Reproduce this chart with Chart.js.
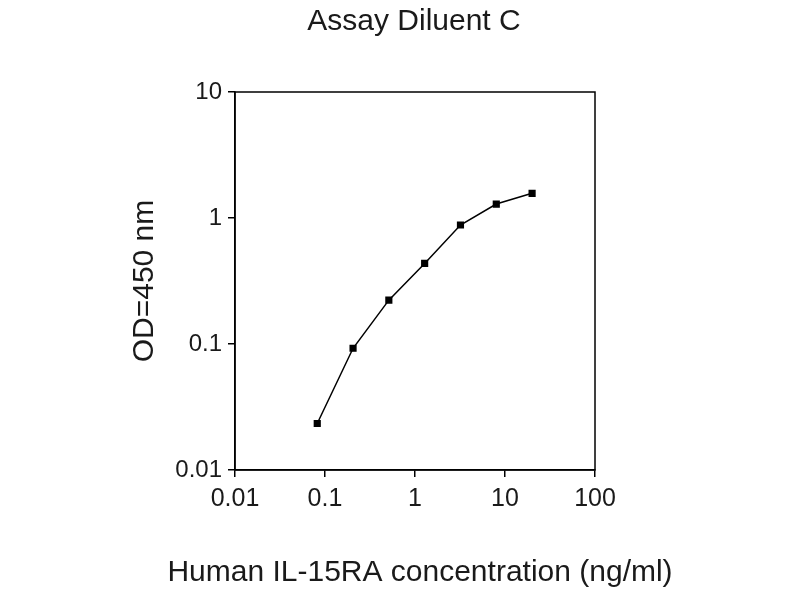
<!DOCTYPE html>
<html>
<head>
<meta charset="utf-8">
<script src="https://cdn.jsdelivr.net/npm/chart.js@4/dist/chart.umd.min.js"></script>
<style>
  html, body { margin: 0; padding: 0; background: #fff; }
  #wrap { width: 800px; height: 600px; }
</style>
</head>
<body>
<div id="wrap"><canvas id="myChart" width="800" height="600"></canvas></div>
<script>
const chartTitle = 'Assay Diluent C'
const xTitle = 'Human IL-15RA concentration (ng/ml)'
const yTitle = 'OD=450 nm'

const concentrations = [0.082, 0.205, 0.512, 1.28, 3.2, 8, 20]
const odValues = [0.0234, 0.0925, 0.223, 0.436, 0.88, 1.29, 1.57]

const xTicks = [0.01, 0.1, 1, 10, 100]
const yTicks = [0.01, 0.1, 1, 10]

const fontFamily = '"Liberation Sans", Arial, sans-serif'

document.addEventListener('DOMContentLoaded', function() {
  initChart()
});

// frame round the plot area, title on top, x title under (wider than the axis)
const framePlugin = {
  id: 'frame',
  afterDraw(chart) {
    const ctx = chart.ctx
    const a = chart.chartArea
    ctx.save()
    ctx.strokeStyle = '#000'
    ctx.lineWidth = 1.5
    ctx.strokeRect(a.left, a.top, a.right - a.left, a.bottom - a.top)
    ctx.fillStyle = '#1a1a1a'
    ctx.textAlign = 'center'
    ctx.textBaseline = 'middle'
    ctx.font = '30px ' + fontFamily
    ctx.fillText(chartTitle, 414, 22)
    ctx.fillText(xTitle, 420, 573)
    ctx.restore()
  }
}

function fmt(v) {
  return String(v)
}

function initChart() {
  const ctx = document.getElementById('myChart').getContext('2d');
  return new Chart(ctx, {
    type: 'line',
    data: {
      datasets: [{
        data: concentrations.map((c, i) => ({ x: c, y: odValues[i] })),
        borderColor: '#000',
        backgroundColor: '#000',
        borderWidth: 1.5,
        pointStyle: 'rect',
        pointRadius: 4,
        pointHoverRadius: 4,
        tension: 0
      }]
    },
    options: {
      responsive: false,
      animation: false,
      layout: { padding: { top: 92, right: 205, left: 0, bottom: 0 } },
      plugins: {
        legend: { display: false },
        tooltip: { enabled: false }
      },
      scales: {
        x: {
          type: 'logarithmic',
          min: 0.01,
          max: 100,
          afterBuildTicks: s => { s.ticks = xTicks.map(v => ({ value: v })) },
          afterFit: s => { s.height = 130 },
          grid: { drawOnChartArea: false, color: '#000', tickLength: 7, lineWidth: 1.5 },
          border: { color: '#000', width: 1.5 },
          ticks: {
            color: '#1a1a1a',
            padding: 7,
            maxRotation: 0,
            font: { family: fontFamily, size: 25 },
            callback: v => fmt(v)
          }
        },
        y: {
          type: 'logarithmic',
          min: 0.01,
          max: 10,
          afterBuildTicks: s => { s.ticks = yTicks.map(v => ({ value: v })) },
          afterFit: s => { s.width = 235 },
          grid: { drawOnChartArea: false, color: '#000', tickLength: 7, lineWidth: 1.5 },
          border: { color: '#000', width: 1.5 },
          ticks: {
            color: '#1a1a1a',
            padding: 6,
            font: { family: fontFamily, size: 24 },
            callback: v => fmt(v)
          },
          title: {
            display: true,
            text: yTitle,
            color: '#1a1a1a',
            font: { family: fontFamily, size: 30 },
            padding: { top: 127, bottom: 0 }
          }
        }
      }
    },
    plugins: [framePlugin]
  });
}
</script>
</body>
</html>
